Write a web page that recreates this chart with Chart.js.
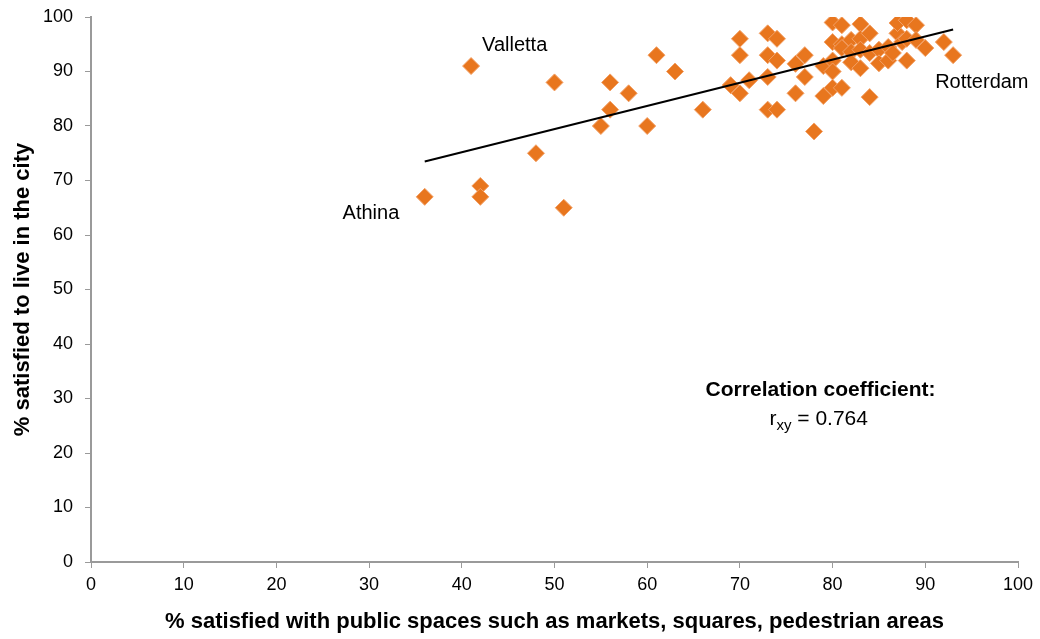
<!DOCTYPE html>
<html>
<head>
<meta charset="utf-8">
<script src="https://cdn.jsdelivr.net/npm/chart.js@4/dist/chart.umd.min.js"></script>
<style>
    html, body { margin: 0; padding: 0; background: #fff; }
    #wrap { width: 1040px; height: 639px; }
</style>
</head>
<body>
<div id="wrap"><canvas id="scatterCiudades"></canvas></div>
<script>
// Data
const publicSpaces = [36, 41, 42, 42, 48, 50, 51, 55, 56, 56, 58, 60, 61, 63, 66,
    69, 70, 70, 70, 71, 73, 73, 73, 73, 74, 74, 74, 76, 76, 77, 77, 78, 79, 79,
    80, 80, 80, 80, 80, 81, 81, 81, 81, 82, 82, 82, 83, 83, 83, 83, 84, 84, 84,
    85, 85, 86, 86, 86.5, 87, 87, 87.5, 88, 88, 88, 89, 89, 90, 92, 93];
const satisfiedCity = [67, 91, 69, 67, 75, 88, 65, 80, 88, 83, 86, 80, 93, 90, 83,
    87.5, 86, 96, 93, 88.4, 97, 93, 89, 83, 96, 92, 83, 91.4, 86, 93, 89, 79, 91, 85.5,
    99, 95.4, 92, 90, 87, 98.5, 95, 94.3, 87, 95.8, 93.6, 91.7, 98.7, 96, 94, 90.6, 97, 93.4, 85.3,
    94, 91.5, 92, 94.5, 93.4, 97, 98.9, 95.4, 99.4, 96, 92, 98.5, 95.8, 94.3, 95.4, 93];
const trendX = [36, 93];
const trendY = [73.5, 97.7];
const tickValues = [0, 10, 20, 30, 40, 50, 60, 70, 80, 90, 100];

const cityLabels = [
    { text: 'Valletta', x: 45.7, y: 94.7 },
    { text: 'Athina', x: 30.2, y: 63.9 },
    { text: 'Rotterdam', x: 96.1, y: 88 }
];

const fontFamily = '"Liberation Sans", Arial, sans-serif';

// Draws city names and correlation note
const annotationPlugin = {
    id: 'cityAnnotations',
    afterDatasetsDraw(chart) {
        const ctx = chart.ctx;
        const xs = chart.scales.x;
        const ys = chart.scales.y;
        ctx.save();
        ctx.fillStyle = '#000';
        ctx.textAlign = 'center';
        ctx.textBaseline = 'middle';
        ctx.font = '20px ' + fontFamily;
        cityLabels.forEach(l => {
            ctx.fillText(l.text, xs.getPixelForValue(l.x), ys.getPixelForValue(l.y));
        });

        const cx = xs.getPixelForValue(78.7);
        ctx.font = 'bold 21px ' + fontFamily;
        ctx.fillText('Correlation coefficient:', cx, ys.getPixelForValue(31.6));

        // r_xy = 0.764 with subscript
        const ry = ys.getPixelForValue(26.2);
        ctx.font = '21px ' + fontFamily;
        const rW = ctx.measureText('r').width;
        const restW = ctx.measureText(' = 0.764').width;
        ctx.font = '15px ' + fontFamily;
        const subW = ctx.measureText('xy').width;
        let start = xs.getPixelForValue(78.5) - (rW + subW + restW) / 2;
        ctx.textAlign = 'left';
        ctx.font = '21px ' + fontFamily;
        ctx.fillText('r', start, ry);
        ctx.font = '15px ' + fontFamily;
        ctx.fillText('xy', start + rW, ry + 7);
        ctx.font = '21px ' + fontFamily;
        ctx.fillText(' = 0.764', start + rW + subW, ry);
        ctx.restore();
    }
};

const ctx = document.getElementById('scatterCiudades');
new Chart(ctx, {
    type: 'scatter',
    data: {
        datasets: [{
            label: 'Cities',
            data: publicSpaces.map((x, i) => ({ x: x, y: satisfiedCity[i] })),
            pointStyle: 'rectRot',
            pointRadius: 8.5,
            backgroundColor: '#E8761E',
            borderColor: '#F2A066',
            borderWidth: 1,
            order: 2
        }, {
            type: 'line',
            label: 'Trend',
            data: trendX.map((x, i) => ({ x: x, y: trendY[i] })),
            borderColor: '#000',
            borderWidth: 2,
            pointRadius: 0,
            fill: false,
            order: 1
        }]
    },
    options: {
        responsive: true,
        maintainAspectRatio: false,
        animation: false,
        layout: { padding: { top: 17, right: 22, left: 0, bottom: 0 } },
        plugins: {
            legend: { display: false },
            tooltip: { enabled: false }
        },
        scales: {
            x: {
                type: 'linear',
                min: 0,
                max: 100,
                afterBuildTicks: axis => { axis.ticks = tickValues.map(v => ({ value: v })); },
                afterFit: axis => { axis.height = 77; },
                ticks: {
                    color: '#000',
                    font: { family: fontFamily, size: 18 },
                    padding: 6
                },
                grid: {
                    drawOnChartArea: false,
                    color: '#9a9a9a',
                    tickLength: 6
                },
                border: { color: '#9a9a9a', width: 2 },
                title: {
                    display: true,
                    text: '% satisfied with public spaces such as markets, squares, pedestrian areas',
                    color: '#000',
                    font: { family: fontFamily, size: 22, weight: 'bold' },
                    padding: { top: 4, bottom: 4 }
                }
            },
            y: {
                min: 0,
                max: 100,
                afterBuildTicks: axis => { axis.ticks = tickValues.map(v => ({ value: v })); },
                afterFit: axis => {
                    axis.width = 91;
                    // keep the top of the plot where the reference has it
                    axis.paddingTop = 8;
                },
                ticks: {
                    color: '#000',
                    font: { family: fontFamily, size: 18 },
                    padding: 12
                },
                grid: {
                    drawOnChartArea: false,
                    color: '#9a9a9a',
                    tickLength: 6
                },
                border: { color: '#9a9a9a', width: 2 },
                title: {
                    display: true,
                    text: '% satisfied to live in the city',
                    color: '#000',
                    font: { family: fontFamily, size: 22, weight: 'bold' },
                    padding: { top: 10, bottom: 0 }
                }
            }
        }
    },
    plugins: [annotationPlugin]
});
</script>
</body>
</html>
